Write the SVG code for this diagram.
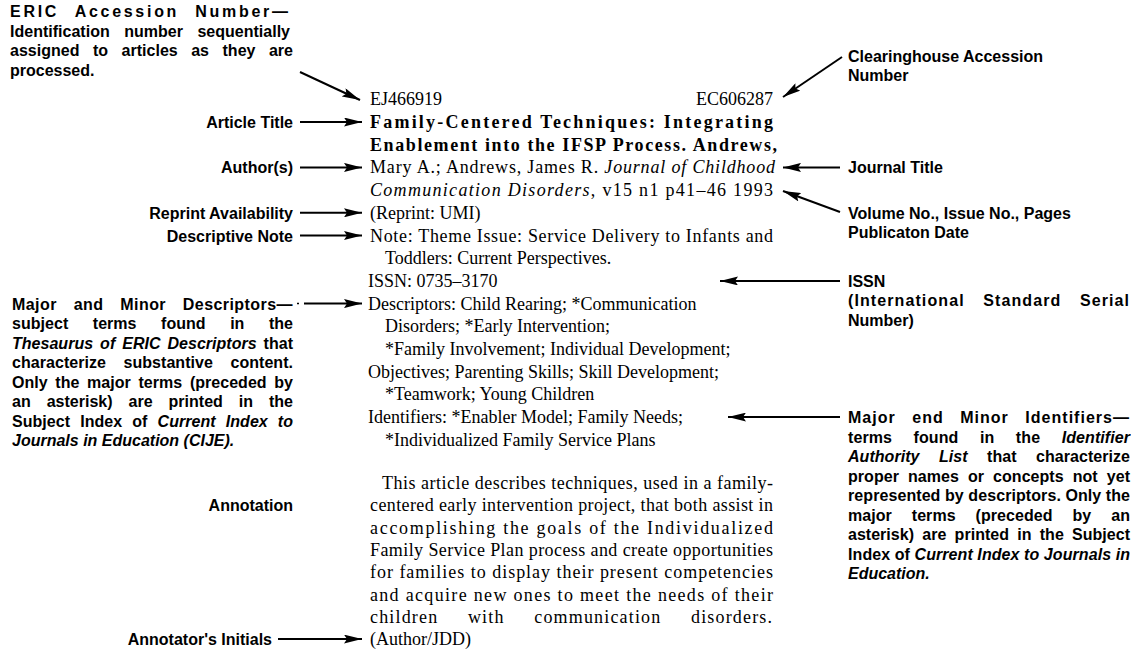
<svg xmlns="http://www.w3.org/2000/svg" width="1131" height="657" viewBox="0 0 1131 657">
<style>
.lab{font-family:"Liberation Sans",Arial,sans-serif;font-weight:bold;font-size:16px;fill:#000}
.body{font-family:"Liberation Serif","Times New Roman",serif;font-size:18px;fill:#000}
.tb{font-weight:bold}
.it{font-style:italic}
.conn line{stroke:#000;stroke-width:2;fill:none}
</style>
<defs>
<marker id="ah" markerUnits="userSpaceOnUse" markerWidth="18" markerHeight="9" refX="18" refY="4.5" orient="auto">
<path d="M0,0 L18,4.5 L0,9 L3,4.5 z" fill="#000"/>
</marker>
</defs>
<rect width="1131" height="657" fill="#fff"/>

<g id="eric-accession" class="lab">
<text x="10" y="17" letter-spacing="2" word-spacing="9" textLength="280">ERIC Accession Number—</text>
<text x="10" y="36.5" word-spacing="10" textLength="280">Identification number sequentially</text>
<text x="10" y="56" word-spacing="9" textLength="283">assigned to articles as they are</text>
<text x="10" y="75.5">processed.</text>
</g>

<g id="clearinghouse" class="lab">
<text x="848" y="62">Clearinghouse Accession</text>
<text x="848" y="81">Number</text>
</g>

<g id="labels-left" class="lab" text-anchor="end">
<text id="article-title" x="293" y="128">Article Title</text>
<text id="authors" x="293" y="173.4">Author(s)</text>
<text id="reprint" x="293" y="218.8">Reprint Availability</text>
<text id="desc-note" x="293" y="241.5">Descriptive Note</text>
<text id="annotation" x="293" y="511.3">Annotation</text>
<text id="annotator" x="272" y="645.1">Annotator's Initials</text>
</g>

<g id="descriptors-label" class="lab">
<text x="12" y="309.6" letter-spacing="0.5" word-spacing="12" textLength="281">Major and Minor Descriptors—</text>
<text x="12" y="329.1" word-spacing="20" textLength="281">subject terms found in the</text>
<text x="12" y="348.6" word-spacing="2.5" textLength="281"><tspan class="it">Thesaurus of ERIC Descriptors</tspan> that</text>
<text x="12" y="368.1" word-spacing="13" textLength="281">characterize substantive content.</text>
<text x="12" y="387.6" word-spacing="3.2" textLength="281">Only the major terms (preceded by</text>
<text x="12" y="407.1" word-spacing="11.5" textLength="281">an asterisk) are printed in the</text>
<text x="12" y="426.6" word-spacing="5.6" textLength="281">Subject Index of <tspan class="it">Current Index to</tspan></text>
<text x="12" y="446.1" class="lab it">Journals in Education (CIJE).</text>
</g>

<g id="journal-title" class="lab">
<text x="848" y="173.4">Journal Title</text>
</g>

<g id="volume" class="lab">
<text x="848" y="218.8">Volume No., Issue No., Pages</text>
<text x="848" y="238.3">Publicaton Date</text>
</g>

<g id="issn-label" class="lab">
<text x="848" y="286.9">ISSN</text>
<text x="848" y="306.4" letter-spacing="1" word-spacing="13" textLength="282">(International Standard Serial</text>
<text x="848" y="325.9">Number)</text>
</g>

<g id="identifiers-label" class="lab">
<text x="848" y="423.1" letter-spacing="1" word-spacing="11" textLength="282">Major end Minor Identifiers—</text>
<text x="848" y="442.6" word-spacing="17" textLength="282">terms found in the <tspan class="it">Identifier</tspan></text>
<text x="848" y="462.1" word-spacing="15" textLength="282"><tspan class="it">Authority List</tspan> that characterize</text>
<text x="848" y="481.6" word-spacing="4.6" textLength="282">proper names or concepts not yet</text>
<text x="848" y="501.1" textLength="282">represented by descriptors. Only the</text>
<text x="848" y="520.6" word-spacing="15.5" textLength="282">major terms (preceded by an</text>
<text x="848" y="540.1" word-spacing="3.8" textLength="282">asterisk) are printed in the Subject</text>
<text x="848" y="559.6" textLength="282">Index of <tspan class="it">Current Index to Journals in</tspan></text>
<text x="848" y="579.1" class="lab it">Education.</text>
</g>

<g id="citation" class="body">
<text x="370" y="105.3">EJ466919</text>
<text x="773" y="105.3" text-anchor="end">EC606287</text>
<text x="370" y="128" class="tb" textLength="403">Family-Centered Techniques: Integrating</text>
<text x="370" y="150.7" class="tb" textLength="407">Enablement into the IFSP Process. Andrews,</text>
<text x="370" y="173.4" textLength="405">Mary A.; Andrews, James R. <tspan class="it">Journal of Childhood</tspan></text>
<text x="370" y="196.1" textLength="403"><tspan class="it">Communication Disorders</tspan>, v15 n1 p41–46 1993</text>
<text x="370" y="218.8">(Reprint: UMI)</text>
<text x="370" y="241.5" textLength="403">Note: Theme Issue: Service Delivery to Infants and</text>
<text x="385" y="264.2">Toddlers: Current Perspectives.</text>
<text x="368" y="286.9">ISSN: 0735–3170</text>
<text x="368" y="309.6">Descriptors: Child Rearing; *Communication</text>
<text x="385" y="332.3">Disorders; *Early Intervention;</text>
<text x="385" y="355">*Family Involvement; Individual Development;</text>
<text x="368" y="377.7">Objectives; Parenting Skills; Skill Development;</text>
<text x="385" y="400.4">*Teamwork; Young Children</text>
<text x="368" y="423.1">Identifiers: *Enabler Model; Family Needs;</text>
<text x="385" y="445.8">*Individualized Family Service Plans</text>
</g>

<g id="annotation-text" class="body">
<text x="382" y="489" textLength="391">This article describes techniques, used in a family-</text>
<text x="370" y="511.3" textLength="403">centered early intervention project, that both assist in</text>
<text x="370" y="533.6" textLength="403">accomplishing the goals of the Individualized</text>
<text x="370" y="555.9" textLength="403">Family Service Plan process and create opportunities</text>
<text x="370" y="578.2" textLength="403">for families to display their present competencies</text>
<text x="370" y="600.5" textLength="403">and acquire new ones to meet the needs of their</text>
<text x="370" y="622.8" letter-spacing="1" word-spacing="24" textLength="403">children with communication disorders.</text>
<text x="370" y="645.1">(Author/JDD)</text>
</g>

<g id="connectors" class="conn">
<line x1="300" y1="72" x2="360" y2="100" marker-end="url(#ah)"/>
<line x1="842" y1="57" x2="783" y2="97" marker-end="url(#ah)"/>
<line x1="300" y1="122" x2="362" y2="122" marker-end="url(#ah)"/>
<line x1="300" y1="167.4" x2="362" y2="167.4" marker-end="url(#ah)"/>
<line x1="300" y1="212.8" x2="362" y2="212.8" marker-end="url(#ah)"/>
<line x1="300" y1="235.5" x2="362" y2="235.5" marker-end="url(#ah)"/>
<line x1="297" y1="303.6" x2="299" y2="303.6" style="stroke-width:1.5"/>
<line x1="304" y1="303.6" x2="362" y2="303.6" marker-end="url(#ah)"/>
<line x1="278" y1="639.1" x2="362" y2="639.1" marker-end="url(#ah)"/>
<line x1="840" y1="167.4" x2="783" y2="167.4" marker-end="url(#ah)"/>
<line x1="840" y1="212" x2="783" y2="191" marker-end="url(#ah)"/>
<line x1="840" y1="280.9" x2="720" y2="280.9" marker-end="url(#ah)"/>
<line x1="840" y1="417.1" x2="728" y2="417.1" marker-end="url(#ah)"/>
</g>
</svg>
